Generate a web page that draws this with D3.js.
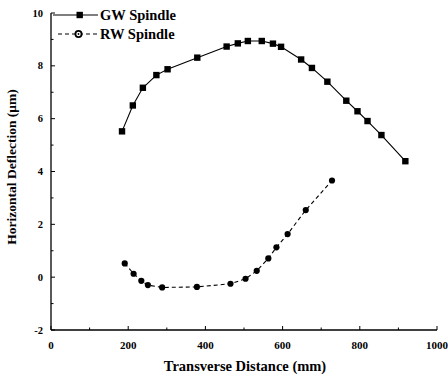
<!DOCTYPE html>
<html>
<head>
<meta charset="utf-8">
<script src="https://cdn.jsdelivr.net/npm/d3@7"></script>
<style>
  body { margin: 0; background: #fff; }
  text { font-family: "Liberation Serif", "DejaVu Serif", serif; font-weight: bold; fill: #000; }
</style>
</head>
<body>
<svg width="448" height="376"></svg>
<script>
// Data
var gwX = [184, 212, 238, 273, 302, 379, 455, 484, 510, 546, 575, 596, 648, 676, 716, 765, 794, 820, 856, 918];
var gwY = [5.52, 6.5, 7.17, 7.65, 7.87, 8.31, 8.73, 8.85, 8.94, 8.94, 8.84, 8.72, 8.24, 7.92, 7.40, 6.68, 6.28, 5.91, 5.38, 4.39];
var rwX = [191, 214, 234, 251, 288, 378, 465, 504, 533, 563, 584, 613, 660, 728];
var rwY = [0.52, 0.13, -0.14, -0.30, -0.39, -0.37, -0.25, -0.06, 0.24, 0.71, 1.13, 1.63, 2.54, 3.66];
var xTicks = [0, 200, 400, 600, 800, 1000];
var yTicks = [-2, 0, 2, 4, 6, 8, 10];
var seriesNames = ["GW Spindle", "RW Spindle"];

var svg = d3.select("svg");

// scales
var x = d3.scaleLinear().domain([0, 1000]).range([51, 437]);
var y = d3.scaleLinear().domain([-2, 10]).range([330, 13]);

// x axis, ticks inward
var xAxis = svg.append("g").attr("transform", "translate(0," + y(-2) + ")");
xAxis.append("line").attr("x1", x(0)).attr("x2", x(1000)).attr("stroke", "#000").attr("stroke-width", 1.3);
xAxis.selectAll(".maj").data(xTicks).enter().append("line")
    .attr("x1", d => x(d)).attr("x2", d => x(d)).attr("y1", 0).attr("y2", -4)
    .attr("stroke", "#000");
xAxis.selectAll(".min").data(d3.range(100, 1000, 200)).enter().append("line")
    .attr("x1", d => x(d)).attr("x2", d => x(d)).attr("y1", 0).attr("y2", -2.5)
    .attr("stroke", "#000");
xAxis.selectAll("text").data(xTicks).enter().append("text")
    .attr("x", d => x(d)).attr("y", 19)
    .attr("text-anchor", "middle").style("font-size", "11px")
    .text(d => d);

// y axis, ticks inward
var yAxis = svg.append("g").attr("transform", "translate(" + x(0) + ",0)");
yAxis.append("line").attr("y1", y(-2)).attr("y2", y(10)).attr("stroke", "#000").attr("stroke-width", 1.3);
yAxis.selectAll(".maj").data(yTicks).enter().append("line")
    .attr("y1", d => y(d)).attr("y2", d => y(d)).attr("x1", 0).attr("x2", 4)
    .attr("stroke", "#000");
yAxis.selectAll(".min").data(d3.range(-1, 10, 2)).enter().append("line")
    .attr("y1", d => y(d)).attr("y2", d => y(d)).attr("x1", 0).attr("x2", 2.5)
    .attr("stroke", "#000");
yAxis.selectAll("text").data(yTicks).enter().append("text")
    .attr("x", -8).attr("y", d => y(d) + 3.5)
    .attr("text-anchor", "end").style("font-size", "10.5px")
    .text(d => d);

// axis titles
svg.append("text").attr("x", 245).attr("y", 371)
    .attr("text-anchor", "middle").style("font-size", "14.5px")
    .text("Transverse Distance (mm)");
svg.append("text").attr("transform", "translate(16," + 167 + ") rotate(-90)")
    .attr("text-anchor", "middle").style("font-size", "13.5px")
    .text("Horizontal Deflection (\u03bcm)");

var line = d3.line().x(d => x(d[0])).y(d => y(d[1]));
var gw = gwX.map((d, i) => [d, gwY[i]]);
var rw = rwX.map((d, i) => [d, rwY[i]]);

// GW
svg.append("path").datum(gw).attr("d", line)
    .attr("fill", "none").attr("stroke", "#000").attr("stroke-width", 1.1);
svg.selectAll(".sq").data(gw).enter().append("rect")
    .attr("x", d => x(d[0]) - 3.2).attr("y", d => y(d[1]) - 3.2)
    .attr("width", 6.4).attr("height", 6.4).attr("fill", "#000");

// RW
svg.append("path").datum(rw).attr("d", line)
    .attr("fill", "none").attr("stroke", "#000").attr("stroke-width", 1.1)
    .attr("stroke-dasharray", "4,3");
svg.selectAll(".ci").data(rw).enter().append("circle")
    .attr("cx", d => x(d[0])).attr("cy", d => y(d[1])).attr("r", 3.1)
    .attr("fill", "#000");

// legend
var leg = svg.append("g");
leg.append("line").attr("x1", 53).attr("x2", 98).attr("y1", 15).attr("y2", 15)
    .attr("stroke", "#000").attr("stroke-width", 1.1);
leg.append("rect").attr("x", 76.5).attr("y", 11.8).attr("width", 6.4).attr("height", 6.4).attr("fill", "#000");
leg.append("text").attr("x", 100).attr("y", 20).style("font-size", "14.5px").text(seriesNames[0]);
leg.append("line").attr("x1", 58).attr("x2", 98).attr("y1", 34).attr("y2", 34)
    .attr("stroke", "#000").attr("stroke-width", 1.1).attr("stroke-dasharray", "4,3");
leg.append("circle").attr("cx", 78.5).attr("cy", 34).attr("r", 3.1)
    .attr("fill", "#fff").attr("stroke", "#000").attr("stroke-width", 1.8);
leg.append("circle").attr("cx", 78.5).attr("cy", 34).attr("r", 0.9).attr("fill", "#000");
leg.append("text").attr("x", 100).attr("y", 39).style("font-size", "14.5px").text(seriesNames[1]);
</script>
</body>
</html>
